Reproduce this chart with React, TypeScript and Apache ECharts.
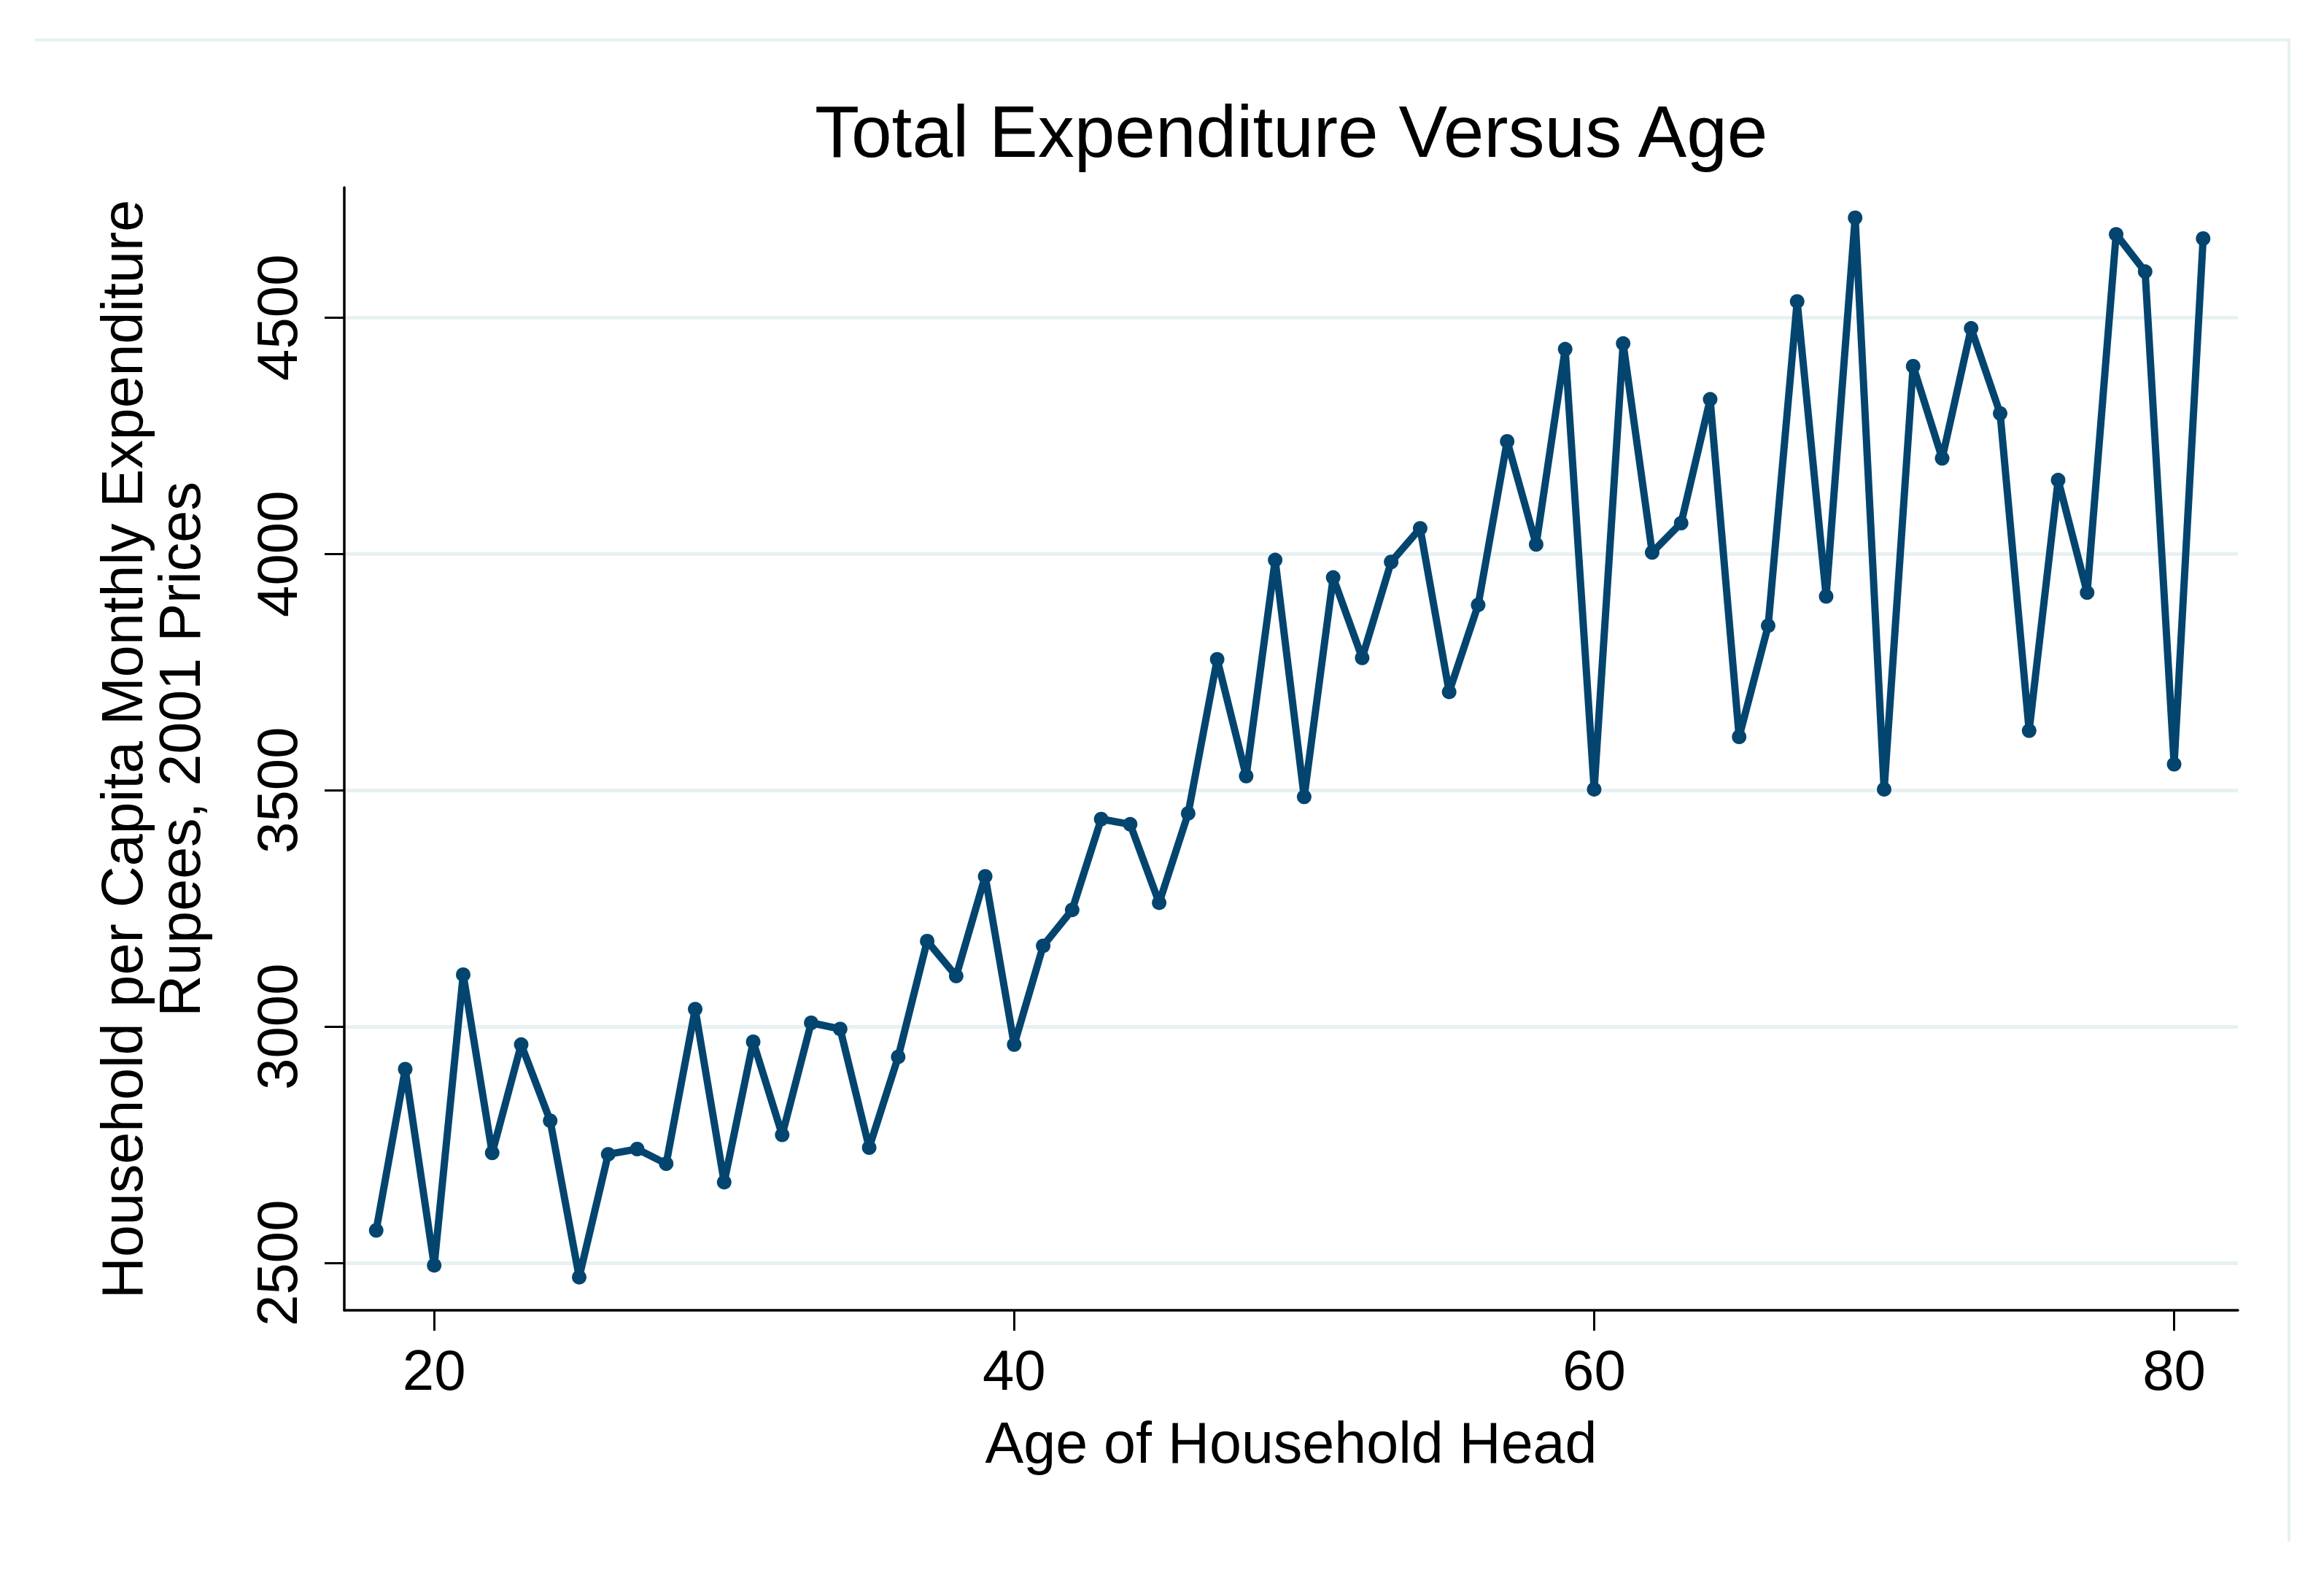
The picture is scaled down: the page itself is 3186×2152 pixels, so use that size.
import React, { useEffect, useRef } from "react";
import * as echarts from "echarts";

const ages = [
  18, 19, 20, 21, 22, 23, 24, 25, 26, 27, 28, 29, 30, 31, 32, 33, 34, 35, 36, 37, 38, 39, 40,
  41, 42, 43, 44, 45, 46, 47, 48, 49, 50, 51, 52, 53, 54, 55, 56, 57, 58, 59, 60, 61, 62, 63,
  64, 65, 66, 67, 68, 69, 70, 71, 72, 73, 74, 75, 76, 77, 78, 79, 80, 81,
];
const expenditure = [
  2569, 2910, 2495, 3110, 2733, 2962, 2801, 2470, 2730, 2741, 2710, 3037, 2671, 2968, 2771,
  3008, 2995, 2744, 2936, 3181, 3107, 3318, 2962, 3171, 3247, 3439, 3428, 3262, 3451, 3777,
  3530, 3987, 3486, 3950, 3780, 3983, 4054, 3708, 3892, 4238, 4020, 4433, 3502, 4445, 4003,
  4065, 4327, 3613, 3848, 4534, 3910, 4711, 3502, 4397, 4202, 4477, 4297, 3626, 4156, 3918,
  4676, 4597, 3555, 4667,
];
const xTicks = [20, 40, 60, 80];
const yTicks = [2500, 3000, 3500, 4000, 4500];

const titleText = "Total Expenditure Versus Age";
const xTitle = "Age of Household Head";
const yTitleLine1 = "Household per Capita Monthly Expenditure";
const yTitleLine2 = "Rupees, 2001 Prices";

const FONT = "'Liberation Sans', Arial, sans-serif";
const LINE_COLOR = "#03456f";
const GRID_COLOR = "#e8f1f2";

export default function App() {
  const ref = useRef<HTMLDivElement>(null);

  useEffect(() => {
    if (!ref.current) return;
    const chart = echarts.init(ref.current, undefined, { renderer: "svg" });
    const data = ages.map((a, i) => [a, expenditure[i]]);
    chart.setOption({
      animation: false,
      backgroundColor: "#ffffff",
      title: {
        text: titleText,
        left: 1117,
        top: 130,
        padding: 0,
        textStyle: { fontFamily: FONT, fontSize: 100, fontWeight: "normal", color: "#000000" },
      },
      grid: { left: 472, right: 3186 - 3068, top: 257, bottom: 2152 - 1796, containLabel: false },
      xAxis: {
        type: "value",
        min: 16.9,
        max: 82.2,
        name: xTitle,
        nameLocation: "middle",
        nameGap: 142,
        nameTextStyle: { fontFamily: FONT, fontSize: 79, color: "#000000" },
        axisLine: { show: true, onZero: false, lineStyle: { color: "#000000", width: 3.5 } },
        axisTick: {
          show: true,
          length: 28,
          customValues: xTicks,
          lineStyle: { color: "#000000", width: 3 },
        },
        axisLabel: {
          customValues: xTicks,
          margin: 43,
          fontFamily: FONT,
          fontSize: 78,
          color: "#000000",
          formatter: (v: number) => String(v),
        },
        splitLine: { show: false },
      },
      yAxis: {
        type: "value",
        min: 2400,
        max: 4775,
        axisLine: { show: true, onZero: false, lineStyle: { color: "#000000", width: 3.5 } },
        axisTick: {
          show: true,
          length: 27,
          customValues: yTicks,
          lineStyle: { color: "#000000", width: 3 },
        },
        axisLabel: {
          customValues: yTicks,
          rotate: 90,
          margin: 53,
          fontFamily: FONT,
          fontSize: 78,
          color: "#000000",
          formatter: (v: number) => String(v),
        },
        splitLine: { show: true, lineStyle: { color: GRID_COLOR, width: 5 } },
      },
      graphic: [
        {
          type: "text",
          x: 167,
          y: 1027,
          rotation: Math.PI / 2,
          style: {
            text: yTitleLine1,
            font: `79px ${FONT}`,
            fill: "#000000",
            textAlign: "center",
            textVerticalAlign: "middle",
          },
        },
        {
          type: "text",
          x: 246,
          y: 1027,
          rotation: Math.PI / 2,
          style: {
            text: yTitleLine2,
            font: `79px ${FONT}`,
            fill: "#000000",
            textAlign: "center",
            textVerticalAlign: "middle",
          },
        },
        {
          type: "line",
          shape: { x1: 48, y1: 54.7, x2: 3140, y2: 54.7 },
          style: { stroke: "#e6f0f0", lineWidth: 4 },
          silent: true,
        },
        {
          type: "line",
          shape: { x1: 3138, y1: 53, x2: 3138, y2: 2113 },
          style: { stroke: "#e6f0f0", lineWidth: 4 },
          silent: true,
        },
      ],
      series: [
        {
          type: "line",
          data,
          symbol: "circle",
          symbolSize: 20,
          showAllSymbol: true,
          itemStyle: { color: LINE_COLOR },
          lineStyle: { color: LINE_COLOR, width: 10, join: "round", cap: "round" },
          z: 3,
        },
      ],
    });
    return () => chart.dispose();
  }, []);

  return (
    <div
      ref={ref}
      style={{ position: "fixed", left: 0, top: 0, width: 3186, height: 2152, background: "#fff" }}
    />
  );
}
